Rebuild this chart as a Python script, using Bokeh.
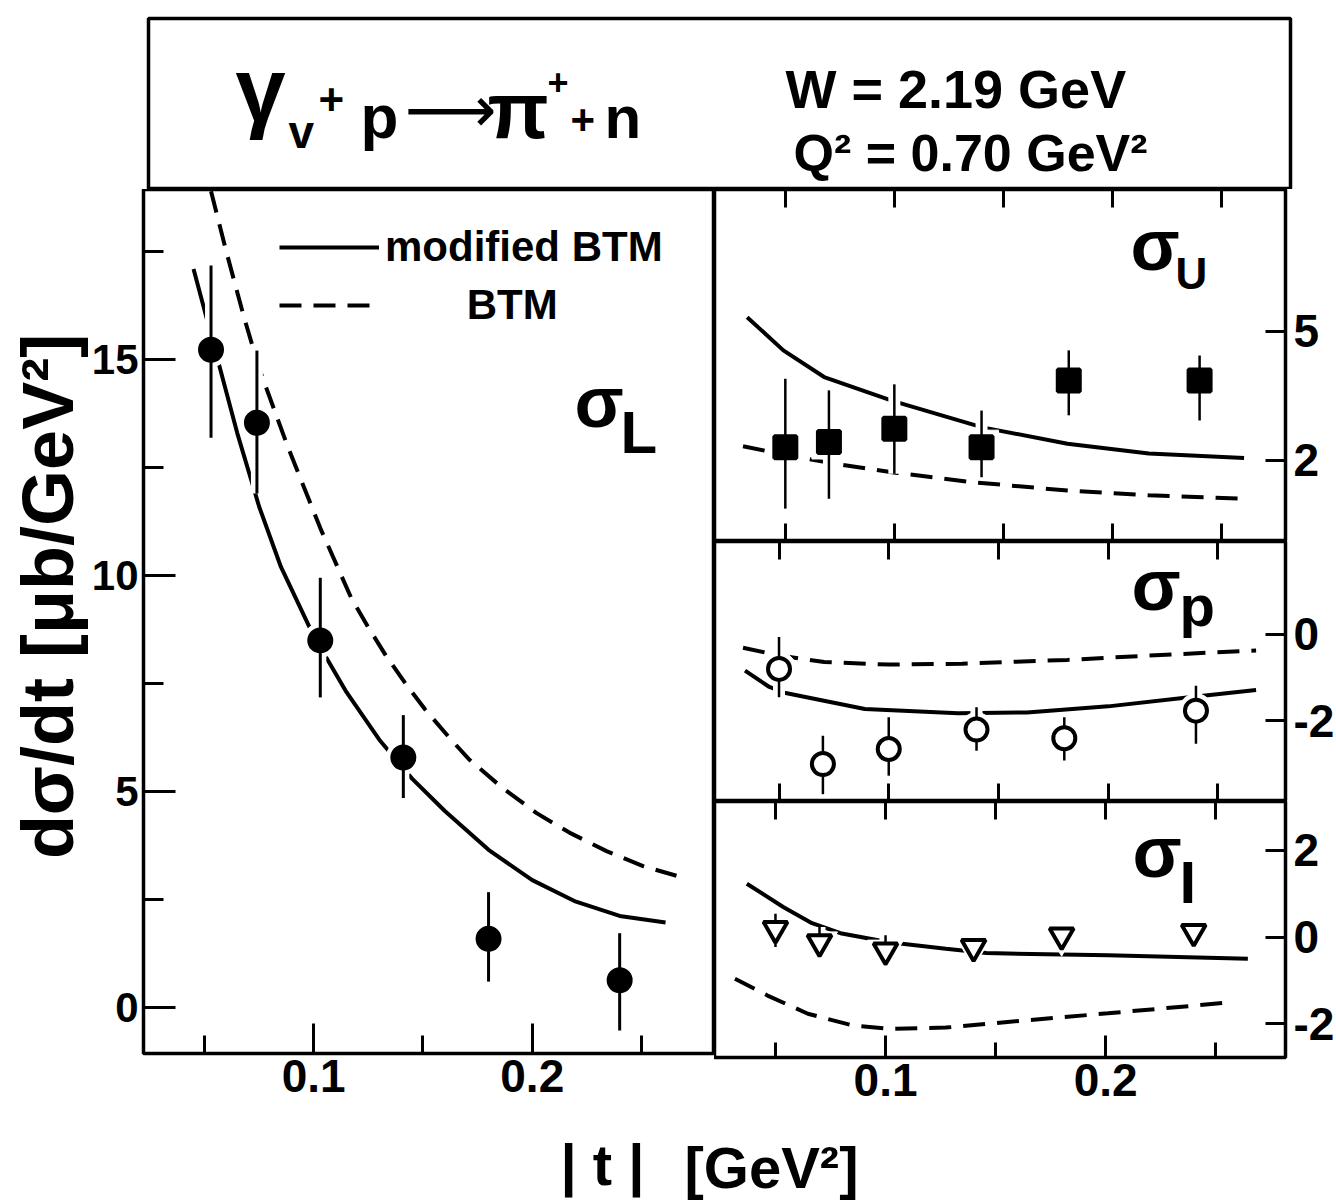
import math
from bokeh.plotting import figure
from bokeh.layouts import column, row
from bokeh.models import Range1d, FixedTicker, LinearAxis, Legend, LegendItem
from bokeh.core.properties import value
from bokeh.embed import file_html
from bokeh.resources import INLINE

F = "Liberation Sans"

# ---------------- data ----------------
t_left = [0.053, 0.074, 0.103, 0.141, 0.180, 0.240]
t_right = [0.050, 0.070, 0.100, 0.140, 0.180, 0.240]

sigL = [15.23, 13.54, 8.50, 5.79, 1.59, 0.63]
sigL_lo = [13.19, 11.90, 7.18, 4.85, 0.60, -0.53]
sigL_hi = [17.18, 15.21, 9.95, 6.77, 2.67, 1.72]

sigU = [2.31, 2.43, 2.74, 2.31, 3.86, 3.86]
sigU_lo = [0.88, 1.11, 1.69, 1.61, 3.05, 2.93]
sigU_hi = [3.90, 3.63, 3.77, 3.16, 4.56, 4.44]

sigP = [-0.80, -3.01, -2.66, -2.21, -2.41, -1.77]
sigP_lo = [-1.46, -3.71, -3.28, -2.70, -2.93, -2.54]
sigP_hi = [-0.06, -2.35, -1.92, -1.69, -1.92, -1.19]

sigI = [0.19, -0.12, -0.31, -0.23, 0.04, 0.12]
sigI_lo = [-0.23, -0.42, -0.65, -0.23, 0.04, 0.12]
sigI_hi = [0.54, 0.23, 0.04, -0.23, 0.04, 0.12]

# model curves
tL_mod = [0.045, 0.055, 0.065, 0.075, 0.085, 0.10, 0.115, 0.13, 0.145, 0.16, 0.18, 0.20, 0.22, 0.24, 0.261]
sL_mod = [17.1, 15.2, 13.3, 11.6, 10.2, 8.6, 7.3, 6.2, 5.3, 4.55, 3.65, 2.95, 2.45, 2.12, 1.97]
tL_btm = [0.053, 0.06, 0.068, 0.075, 0.088, 0.103, 0.117, 0.125, 0.133, 0.142, 0.151, 0.162, 0.171,
          0.186, 0.202, 0.217, 0.234, 0.251, 0.266]
sL_btm = [18.9, 17.5, 16.0, 14.8, 13.0, 11.1, 9.5, 8.8, 8.15, 7.5, 6.9, 6.25, 5.75,
          5.1, 4.5, 4.05, 3.62, 3.27, 3.05]

tU_mod = [0.0325, 0.0491, 0.0678, 0.0995, 0.1404, 0.1794, 0.2167, 0.2604]
sU_mod = [5.33, 4.56, 3.94, 3.38, 2.77, 2.39, 2.16, 2.06]
tU_btm = [0.0306, 0.0491, 0.0734, 0.1013, 0.1348, 0.1794, 0.2167, 0.2613]
sU_btm = [2.33, 2.14, 1.92, 1.71, 1.50, 1.30, 1.19, 1.11]

tP_mod = [0.0345, 0.0456, 0.053, 0.0891, 0.1316, 0.163, 0.200, 0.237, 0.2674]
sP_mod = [-0.84, -1.22, -1.36, -1.73, -1.83, -1.81, -1.67, -1.46, -1.29]
tP_btm = [0.0336, 0.0502, 0.0706, 0.1001, 0.1334, 0.1815, 0.2184, 0.2674]
sP_btm = [-0.31, -0.49, -0.64, -0.70, -0.68, -0.59, -0.49, -0.37]

tI_mod = [0.0370, 0.0537, 0.0666, 0.0795, 0.1016, 0.1274, 0.1458, 0.2011, 0.2646]
sI_mod = [1.23, 0.69, 0.32, 0.09, -0.12, -0.27, -0.37, -0.42, -0.50]
tI_btm = [0.0316, 0.0464, 0.0647, 0.085, 0.1016, 0.1274, 0.1642, 0.201, 0.2583]
sI_btm = [-0.96, -1.35, -1.77, -2.04, -2.12, -2.09, -1.92, -1.76, -1.50]

x_major = [0.1, 0.2]
x_minor = [0.05, 0.15, 0.25]
x_all = [0.05, 0.1, 0.15, 0.2, 0.25]

DASH = "22 12"
BASE_SHIFT = 0.35


def make_fig(fw, fh, xr, yr, bl, br, bt, bb, outline=True):
    p = figure(frame_width=fw, frame_height=fh, x_range=Range1d(*xr), y_range=Range1d(*yr),
               x_axis_type=None, y_axis_type=None, output_backend="svg", toolbar_location=None,
               min_border_left=bl, min_border_right=br, min_border_top=bt, min_border_bottom=bb)
    p.outline_line_color = "black" if outline else None
    p.outline_line_width = 3.5
    p.background_fill_color = "white"
    p.border_fill_color = "white"
    return p


def style_ticks(ax, major_len, minor_len):
    ax.axis_line_color = None
    ax.major_tick_in = major_len
    ax.major_tick_out = 0
    ax.minor_tick_in = minor_len
    ax.minor_tick_out = 0
    ax.major_tick_line_width = 3
    ax.minor_tick_line_width = 3
    ax.major_tick_line_color = "black"
    ax.minor_tick_line_color = "black"


def add_axis(p, where, major, minor, major_len, minor_len, size="46px", standoff=8):
    ax = LinearAxis(ticker=FixedTicker(ticks=major, minor_ticks=minor))
    style_ticks(ax, major_len, minor_len)
    ax.major_label_text_font = F
    ax.major_label_text_font_size = size
    ax.major_label_text_font_style = "bold"
    ax.major_label_text_color = "black"
    ax.major_label_standoff = standoff
    p.add_layout(ax, where)
    return ax


def add_tick_only_axis(p, where, ticks, length):
    # ticks only, no labels: all ticks given as minor ticks
    ax = LinearAxis(ticker=FixedTicker(ticks=[], minor_ticks=ticks))
    style_ticks(ax, 0, length)
    ax.major_label_standoff = 0
    p.add_layout(ax, where)
    return ax


def txt(p, x, y, s, size, ppu, font=F, style="bold", align="left"):
    px = float(size.replace("px", ""))
    p.text(x=[x], y=[y + BASE_SHIFT * px / ppu], text=[s], text_font=value(font),
           text_font_size=size, text_font_style=style, text_align=align,
           text_baseline="alphabetic", text_color="black")


def data_marks(p, t, v, lo, hi, marker, size, fill, lw_bar=3):
    p.segment(x0=t, y0=lo, x1=t, y1=hi, line_color="white", line_width=12)
    p.scatter(x=t, y=v, marker=marker, size=size + 12, fill_color="white", line_color="white")
    p.segment(x0=t, y0=lo, x1=t, y1=hi, line_color="black", line_width=lw_bar)
    p.scatter(x=t, y=v, marker=marker, size=size, fill_color=fill, line_color="black",
              line_width=4)


# ---------------- title box ----------------
title = make_fig(1142, 171, (0, 1), (0, 1), 148, 46, 18, 0)
TP = 171.0


def fx(X):
    return (X - 148) / 1142


def fy(Y):
    return (189 - Y) / 171


txt(title, fx(235), fy(121), "γ", "90px", TP)
txt(title, fx(288), fy(148), "v", "46px", TP)
txt(title, fx(318), fy(114), "+", "44px", TP)
txt(title, fx(360), fy(138), "p", "62px", TP)
txt(title, fx(404), fy(132), "⟶", "64px", TP, font="DejaVu Sans", style="normal")
txt(title, fx(487), fy(138), "π", "80px", TP)
txt(title, fx(547), fy(94), "+", "36px", TP)
txt(title, fx(570), fy(134), "+", "42px", TP)
txt(title, fx(604), fy(138), "n", "60px", TP)
txt(title, fx(785), fy(107), "W = 2.19 GeV", "54px", TP)
txt(title, fx(793), fy(171), "Q² = 0.70 GeV²", "52px", TP)

# ---------------- y-axis title strip ----------------
YL_W = 88
ylab = make_fig(YL_W, 933, (0, YL_W), (0, 1), 0, 0, 0, 0, outline=False)
ylab.text(x=[73 - BASE_SHIFT * 72], y=[(1122 - 596) / 933], text=["dσ/dt [μb/GeV²]"],
          angle=math.pi / 2, text_font=value(F), text_font_size="72px", text_font_style="bold",
          text_align="center", text_baseline="alphabetic", text_color="black")

# ---------------- left panel: sigma_L ----------------
LP = 43.2
left = make_fig(571, 864, (0.0221, 0.2834), (-1.065, 18.94), 141 - YL_W, 0, 0, 69)
add_axis(left, "left", [0, 5, 10, 15], [2.5, 7.5, 12.5, 17.5], 32, 20, size="42px", standoff=5)
add_axis(left, "below", x_major, x_minor, 30, 18, standoff=6)

r_mod = left.line(tL_mod, sL_mod, line_color="black", line_width=4)
r_btm = left.line(tL_btm, sL_btm, line_color="black", line_width=4, line_dash=DASH)
data_marks(left, t_left, sigL, sigL_lo, sigL_hi, "circle", 22, "black")
txt(left, 0.2193, 13.43, "σ", "72px", LP)
txt(left, 0.2404, 12.82, "L", "60px", LP)

leg = Legend(items=[LegendItem(label="modified BTM", renderers=[r_mod]),
                    LegendItem(label="\u00a0" * 7 + "BTM", renderers=[r_btm])],
             location=(136, 719))
leg.glyph_width = 100
leg.glyph_height = 58
leg.label_height = 58
leg.label_standoff = 6
leg.spacing = 0
leg.padding = 0
leg.margin = 0
leg.border_line_color = None
leg.background_fill_color = None
leg.label_text_font = F
leg.label_text_font_size = "42px"
leg.label_text_font_style = "bold"
leg.label_text_color = "black"
left.add_layout(leg)

# ---------------- right panels ----------------
su = make_fig(571, 352, (0.01752, 0.2794), (0.116, 8.30), 0, 53, 0, 0)
add_axis(su, "right", [2, 5], [], 20, 0, standoff=8)
add_tick_only_axis(su, "above", x_all, 18)
add_tick_only_axis(su, "below", x_all, 18)
su.line(tU_mod, sU_mod, line_color="black", line_width=4)
su.line(tU_btm, sU_btm, line_color="black", line_width=4, line_dash=DASH)
data_marks(su, t_right, sigU, sigU_lo, sigU_hi, "square", 22, "black", lw_bar=2.5)
txt(su, 0.2083, 6.42, "σ", "72px", 43.0)
txt(su, 0.2289, 6.0, "U", "44px", 43.0)

sp = make_fig(571, 260, (0.0206, 0.2808), (-3.88, 2.16), 0, 53, 0, 0)
ax = add_axis(sp, "right", [0, -2], [], 20, 0, standoff=8)
ax.major_label_overrides = {-2: "-2"}
add_tick_only_axis(sp, "above", x_all, 18)
add_tick_only_axis(sp, "below", x_all, 18)
sp.line(tP_mod, sP_mod, line_color="black", line_width=4)
sp.line(tP_btm, sP_btm, line_color="black", line_width=4, line_dash=DASH)
data_marks(sp, t_right, sigP, sigP_lo, sigP_hi, "circle", 22, "white", lw_bar=2.5)
txt(sp, 0.2106, 0.558, "σ", "72px", 43.05)
txt(sp, 0.2325, 0.21, "p", "58px", 43.05)

si = make_fig(571, 256, (0.0223, 0.2817), (-2.78, 3.13), 0, 53, 0, 65)
ax = add_axis(si, "right", [2, 0, -2], [], 20, 0, standoff=8)
ax.major_label_overrides = {-2: "-2"}
add_tick_only_axis(si, "above", x_all, 18)
add_axis(si, "below", x_major, x_minor, 22, 15, standoff=6)
si.line(tI_mod, sI_mod, line_color="black", line_width=4)
si.line(tI_btm, sI_btm, line_color="black", line_width=4, line_dash=DASH)
data_marks(si, t_right, sigI, sigI_lo, sigI_hi, "inverted_triangle", 24, "white", lw_bar=2.5)
txt(si, 0.2122, 1.38, "σ", "72px", 43.3)
txt(si, 0.2335, 0.78, "I", "60px", 43.3)

# ---------------- bottom axis title (frame aligned with the title box) ----------------
bottom = make_fig(1142, 82, (0, 1), (0, 1), 148, 46, 0, 0, outline=False)
BP = 82.0
txt(bottom, fx(560), (1204 - 1184) / BP, "| t |", "58px", BP)
txt(bottom, fx(684), (1204 - 1187) / BP, "[GeV²]", "58px", BP)

layout = column(title, row(ylab, left, column(su, sp, si)), bottom)

open("out.html", "w").write(file_html(layout, INLINE))
